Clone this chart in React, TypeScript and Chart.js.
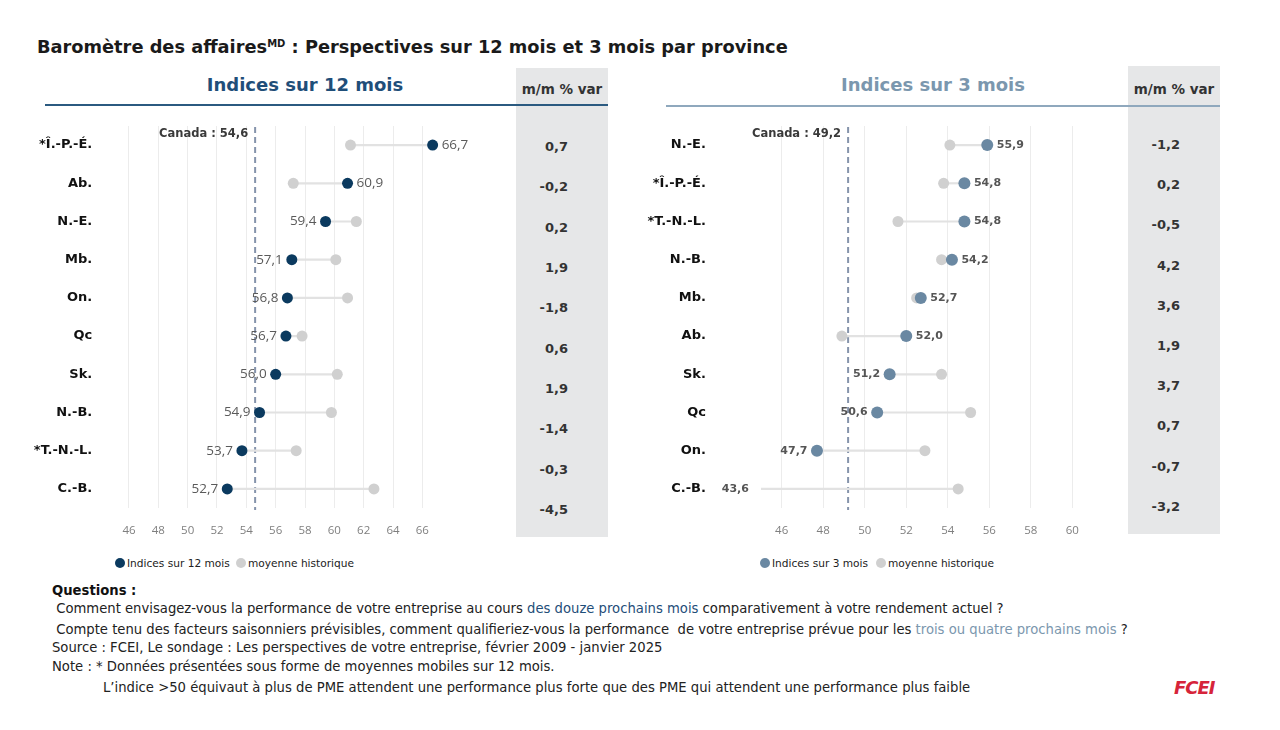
import React, { useEffect, useRef } from "react";
import { Chart, registerables } from "chart.js";

Chart.register(...registerables);

// ---------- DATA ----------
const provinces12 = ["*Î.-P.-É.", "Ab.", "N.-E.", "Mb.", "On.", "Qc", "Sk.", "N.-B.", "*T.-N.-L.", "C.-B."];
const indices12 = [66.7, 60.9, 59.4, 57.1, 56.8, 56.7, 56.0, 54.9, 53.7, 52.7];
const historical12 = [61.1, 57.2, 61.5, 60.1, 60.9, 57.8, 60.2, 59.8, 57.4, 62.7];
const mmVar12 = [0.7, -0.2, 0.2, 1.9, -1.8, 0.6, 1.9, -1.4, -0.3, -4.5];
const canada12 = 54.6;
const xTicks12 = [46, 48, 50, 52, 54, 56, 58, 60, 62, 64, 66];

const provinces3 = ["N.-E.", "*Î.-P.-É.", "*T.-N.-L.", "N.-B.", "Mb.", "Ab.", "Sk.", "Qc", "On.", "C.-B."];
const indices3 = [55.9, 54.8, 54.8, 54.2, 52.7, 52.0, 51.2, 50.6, 47.7, 43.6];
const historical3 = [54.1, 53.8, 51.6, 53.7, 52.5, 48.9, 53.7, 55.1, 52.9, 54.5];
const mmVar3 = [-1.2, 0.2, -0.5, 4.2, 3.6, 1.9, 3.7, 0.7, -0.7, -3.2];
const canada3 = 49.2;
const xTicks3 = [46, 48, 50, 52, 54, 56, 58, 60];

const NAVY = "#0b3a5f";
const SLATE = "#6a88a2";
const GREY = "#d0d0d0";

function fmt(v: number): string {
  return v.toFixed(1).replace(".", ",");
}

type PanelCfg = {
  labels: string[];
  values: number[];
  hist: number[];
  canada: number;
  min: number;
  max: number;
  ticks: number[];
  color: string;
  seriesName: string;
  yWidth: number;
  yPad: number;
  padRight: number;
  valueFont: string;
  valueColor: string;
  pointRadius: number;
};

function DumbbellChart(props: { cfg: PanelCfg; left: number; top: number; width: number; height: number }) {
  const { cfg, left, top, width, height } = props;
  const ref = useRef<HTMLCanvasElement>(null);

  useEffect(() => {
    const overlay = {
      id: "overlay",
      beforeDatasetsDraw(chart: any) {
        const { ctx, chartArea, scales } = chart;
        const x = scales.x.getPixelForValue(cfg.canada);
        ctx.save();
        ctx.strokeStyle = "#8593ab";
        ctx.lineWidth = 2;
        ctx.setLineDash([6, 4]);
        ctx.beginPath();
        ctx.moveTo(x, chartArea.top + 1);
        ctx.lineTo(x, chartArea.bottom + 2);
        ctx.stroke();
        ctx.restore();
      },
      afterDatasetsDraw(chart: any) {
        const { ctx, chartArea, scales } = chart;
        const x = scales.x.getPixelForValue(cfg.canada);
        ctx.save();
        ctx.font = 'bold 11.5px "DejaVu Sans"';
        ctx.fillStyle = "#3a3a3a";
        ctx.textAlign = "right";
        ctx.textBaseline = "middle";
        ctx.fillText("Canada : " + fmt(cfg.canada), x - 7, chartArea.top + 8);

        const meta = chart.getDatasetMeta(2);
        ctx.font = cfg.valueFont;
        ctx.fillStyle = cfg.valueColor;
        meta.data.forEach((pt: any, i: number) => {
          const v = cfg.values[i];
          const h = cfg.hist[i];
          const off = cfg.pointRadius + 3.5;
          if (pt.x < chartArea.left) {
            ctx.textAlign = "right";
            ctx.fillText(fmt(v), chartArea.left - 12, pt.y);
          } else if (v >= h) {
            ctx.textAlign = "left";
            ctx.fillText(fmt(v), pt.x + off, pt.y);
          } else {
            ctx.textAlign = "right";
            ctx.fillText(fmt(v), pt.x - off, pt.y);
          }
        });
        ctx.restore();
      },
    };

    const chart = new Chart(ref.current as HTMLCanvasElement, {
      type: "bar",
      data: {
        labels: cfg.labels,
        datasets: [
          {
            type: "bar",
            label: "écart",
            data: cfg.values.map((v, i) => [Math.min(v, cfg.hist[i]), Math.max(v, cfg.hist[i])]),
            backgroundColor: "#e2e2e2",
            borderWidth: 0,
            barThickness: 1.5,
            order: 3,
          } as any,
          {
            type: "line",
            label: "moyenne historique",
            data: cfg.hist,
            indexAxis: "y",
            showLine: false,
            pointRadius: 5.5,
            pointHoverRadius: 5.5,
            pointBackgroundColor: GREY,
            pointBorderWidth: 0,
            backgroundColor: GREY,
            borderColor: GREY,
            order: 2,
          } as any,
          {
            type: "line",
            label: cfg.seriesName,
            data: cfg.values,
            indexAxis: "y",
            showLine: false,
            pointRadius: cfg.pointRadius,
            pointHoverRadius: cfg.pointRadius,
            pointBackgroundColor: cfg.color,
            pointBorderWidth: 0,
            backgroundColor: cfg.color,
            borderColor: cfg.color,
            order: 1,
          } as any,
        ],
      },
      options: {
        indexAxis: "y",
        responsive: false,
        animation: false,
        layout: { padding: { top: 16, right: cfg.padRight, left: 0, bottom: 0 } },
        plugins: { legend: { display: false }, tooltip: { enabled: false } },
        scales: {
          x: {
            type: "linear",
            min: cfg.min,
            max: cfg.max,
            position: "bottom",
            border: { display: false },
            grid: { color: "#ececec", drawTicks: false, lineWidth: 1 },
            ticks: {
              padding: 16,
              color: "#7f7f7f",
              font: { family: "Open Sans", size: 11.5 },
              callback: (v: any) => String(v),
            },
            afterBuildTicks: (axis: any) => {
              axis.ticks = cfg.ticks.map((v) => ({ value: v }));
            },
            afterFit: (axis: any) => {
              axis.height = 42;
              axis.paddingLeft = 0;
              axis.paddingRight = 0;
            },
          },
          y: {
            type: "category",
            offset: true,
            border: { display: false },
            grid: { display: false },
            ticks: {
              padding: cfg.yPad,
              color: "#111111",
              font: { family: "DejaVu Sans", size: 13, weight: "bold" },
            },
            afterFit: (axis: any) => {
              axis.width = cfg.yWidth;
              axis.paddingTop = 0;
              axis.paddingBottom = 0;
            },
          },
        } as any,
      },
      plugins: [overlay],
    });
    return () => chart.destroy();
  }, []);

  return (
    <canvas
      ref={ref}
      width={width}
      height={height}
      style={{ position: "absolute", left, top, width, height }}
    />
  );
}

const cfg12: PanelCfg = {
  labels: provinces12,
  values: indices12,
  hist: historical12,
  canada: canada12,
  min: 45,
  max: 68,
  ticks: xTicks12,
  color: NAVY,
  seriesName: "Indices sur 12 mois",
  yWidth: 114.3,
  yPad: 14,
  padRight: 18.3,
  valueFont: '13.5px "Open Sans"',
  valueColor: "#5a5a5a",
  pointRadius: 5.5,
};

const cfg3: PanelCfg = {
  labels: provinces3,
  values: indices3,
  hist: historical3,
  canada: canada3,
  min: 45,
  max: 62,
  ticks: xTicks3,
  color: SLATE,
  seriesName: "Indices sur 3 mois",
  yWidth: 160.9,
  yPad: 47,
  padRight: 16.1,
  valueFont: 'bold 11px "DejaVu Sans"',
  valueColor: "#555555",
  pointRadius: 6,
};

function Abs(props: { left: number; top: number; style?: any; children?: any }) {
  return (
    <div style={{ position: "absolute", left: props.left, top: props.top, whiteSpace: "pre", ...props.style }}>
      {props.children}
    </div>
  );
}

function MmColumn(props: { left: number; top: number; height: number; values: number[]; firstY: number; step: number }) {
  const { left, top, height, values, firstY, step } = props;
  return (
    <>
      <div style={{ position: "absolute", left, top, width: 92, height, background: "#e6e7e8" }} />
      <div
        style={{
          position: "absolute",
          left,
          top: 80,
          width: 92,
          textAlign: "center",
          font: 'bold 13.5px "DejaVu Sans"',
          lineHeight: "18px",
          color: "#333",
        }}
      >
        m/m % var
      </div>
      {values.map((v, i) => (
        <div
          key={i}
          style={{
            position: "absolute",
            left,
            width: 52,
            top: firstY + i * step - 9,
            textAlign: "right",
            font: 'bold 13px "DejaVu Sans"',
            lineHeight: "18px",
            color: "#333",
          }}
        >
          {fmt(v)}
        </div>
      ))}
    </>
  );
}

function LegendItem(props: { left: number; color: string; text: string }) {
  return (
    <>
      <div
        style={{
          position: "absolute",
          left: props.left - 5,
          top: 558,
          width: 10,
          height: 10,
          borderRadius: 5,
          background: props.color,
        }}
      />
      <Abs left={props.left + 7} top={556} style={{ font: '10.6px "DejaVu Sans"', lineHeight: "14px", color: "#222" }}>
        {props.text}
      </Abs>
    </>
  );
}

export default function App() {
  const foot = { font: '13.2px "DejaVu Sans"', lineHeight: "18px", color: "#222" };
  return (
    <div
      style={{
        position: "absolute",
        left: 0,
        top: 0,
        width: 1280,
        height: 730,
        background: "#fff",
        overflow: "hidden",
        fontFamily: '"DejaVu Sans", sans-serif',
      }}
    >
      <Abs left={37} top={32} style={{ font: 'bold 17.8px "DejaVu Sans"', lineHeight: "24px", color: "#1a1a1a" }}>
        Baromètre des affaires<span style={{ fontSize: "10px", verticalAlign: "6px" }}>MD</span> : Perspectives sur 12
        mois et 3 mois par province
      </Abs>

      <MmColumn left={516} top={68} height={469} values={mmVar12} firstY={147} step={40.33} />
      <MmColumn left={1128} top={66} height={468} values={mmVar3} firstY={145} step={40.2} />

      <div
        style={{
          position: "absolute",
          left: 205,
          width: 200,
          top: 74,
          textAlign: "center",
          font: 'bold 18px "DejaVu Sans"',
          lineHeight: "22px",
          color: "#1f4e79",
        }}
      >
        Indices sur 12 mois
      </div>
      <div
        style={{
          position: "absolute",
          left: 833,
          width: 200,
          top: 74,
          textAlign: "center",
          font: 'bold 18px "DejaVu Sans"',
          lineHeight: "22px",
          color: "#7b97ae",
        }}
      >
        Indices sur 3 mois
      </div>
      <div style={{ position: "absolute", left: 45, top: 104, width: 563, height: 2, background: "#2b5a80" }} />
      <div style={{ position: "absolute", left: 666, top: 105, width: 554, height: 1.5, background: "#8fa8bd" }} />

      <DumbbellChart cfg={cfg12} left={0} top={110} width={470} height={440} />
      <DumbbellChart cfg={cfg3} left={600} top={110} width={530} height={440} />

      <LegendItem left={120} color={NAVY} text="Indices sur 12 mois" />
      <LegendItem left={241} color={GREY} text="moyenne historique" />
      <LegendItem left={765} color={SLATE} text="Indices sur 3 mois" />
      <LegendItem left={881} color={GREY} text="moyenne historique" />

      <Abs left={52} top={582} style={{ ...foot, fontWeight: "bold", color: "#111" }}>
        Questions :
      </Abs>
      <Abs left={52} top={600} style={foot}>
        {" Comment envisagez-vous la performance de votre entreprise au cours "}
        <span style={{ color: "#1f4e79" }}>des douze prochains mois</span>
        {" comparativement à votre rendement actuel ?"}
      </Abs>
      <Abs left={52} top={621} style={foot}>
        {" Compte tenu des facteurs saisonniers prévisibles, comment qualifieriez-vous la performance  de votre entreprise prévue pour les "}
        <span style={{ color: "#7b97ae" }}>trois ou quatre prochains mois</span>
        {" ?"}
      </Abs>
      <Abs left={52} top={639} style={foot}>
        Source : FCEI, Le sondage : Les perspectives de votre entreprise, février 2009 - janvier 2025
      </Abs>
      <Abs left={52} top={658} style={foot}>
        Note : * Données présentées sous forme de moyennes mobiles sur 12 mois.
      </Abs>
      <Abs left={103} top={679} style={foot}>
        L’indice &gt;50 équivaut à plus de PME attendent une performance plus forte que des PME qui attendent une
        performance plus faible
      </Abs>
      <Abs
        left={1174}
        top={677}
        style={{ font: 'italic bold 18px "DejaVu Sans"', lineHeight: "22px", color: "#d6243a", letterSpacing: "-1px" }}
      >
        FCEI
      </Abs>
    </div>
  );
}
